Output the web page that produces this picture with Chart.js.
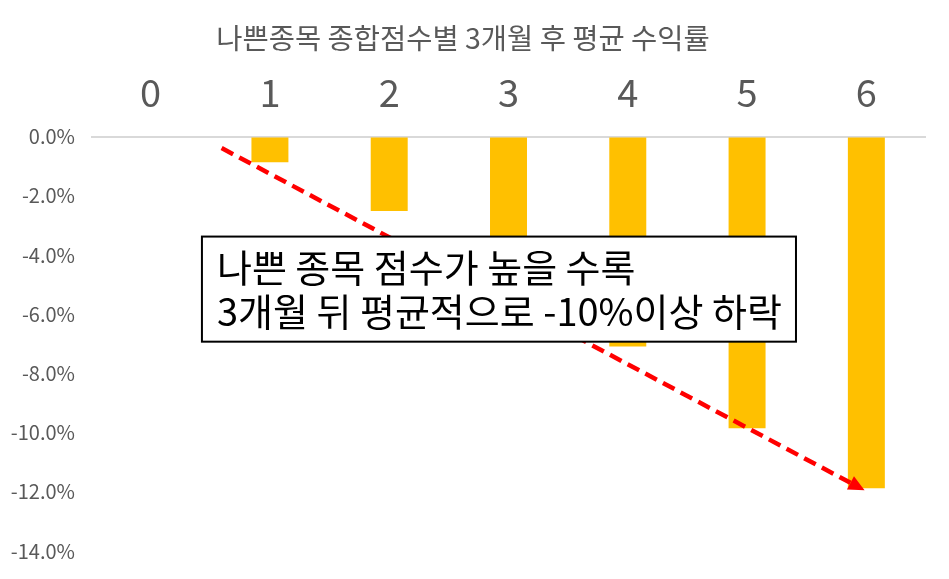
<!DOCTYPE html>
<html>
<head>
<meta charset="utf-8">
<script src="https://cdn.jsdelivr.net/npm/chart.js@4"></script>
<style>
  html, body { margin: 0; padding: 0; background: #ffffff; }
  #wrap { width: 949px; height: 579px; position: relative; }
</style>
</head>
<body>
<div id="wrap"><canvas id="c"></canvas></div>
<script>
// ---- data ----
const categories = ['0', '1', '2', '3', '4', '5', '6'];
const returns = [0, -0.87, -2.52, -4.6, -7.09, -9.85, -11.88];   // average 3-month return (%)
const chartTitle = '나쁜종목 종합점수별 3개월 후 평균 수익률';
const noteLines = ['나쁜 종목 점수가 높을 수록', '3개월 뒤 평균적으로 -10%이상 하락'];

// ---- annotation placement (in axis units: category index, %) ----
const arrowFrom = { x: 0.595, y: -0.39 };
const arrowTo   = { x: 5.985, y: -11.95 };
const noteBox   = { x0: 0.43, x1: 5.41, y0: -3.38, y1: -6.93 };

const FONT = '"Noto Sans CJK KR", "Noto Sans", sans-serif';
const GREY = '#595959';

const annotationPlugin = {
  id: 'notes',
  afterDatasetsDraw(chart) {
    const { ctx, scales: { x, y } } = chart;
    // dashed arrow
    const x1 = x.getPixelForValue(arrowFrom.x), y1 = y.getPixelForValue(arrowFrom.y);
    const x2 = x.getPixelForValue(arrowTo.x),   y2 = y.getPixelForValue(arrowTo.y);
    const ang = Math.atan2(y2 - y1, x2 - x1);
    const headLen = 16, headW = 7.5;
    const bx = x2 - headLen * Math.cos(ang), by = y2 - headLen * Math.sin(ang);
    ctx.save();
    ctx.strokeStyle = '#FF0000';
    ctx.lineWidth = 4.5;
    ctx.setLineDash([13, 7]);
    ctx.beginPath();
    ctx.moveTo(x1, y1);
    ctx.lineTo(bx, by);
    ctx.stroke();
    ctx.setLineDash([]);
    ctx.fillStyle = '#FF0000';
    ctx.beginPath();
    ctx.moveTo(x2, y2);
    ctx.lineTo(bx + headW * Math.sin(ang), by - headW * Math.cos(ang));
    ctx.lineTo(bx - headW * Math.sin(ang), by + headW * Math.cos(ang));
    ctx.closePath();
    ctx.fill();

    // text box
    const l = x.getPixelForValue(noteBox.x0), r = x.getPixelForValue(noteBox.x1);
    const t = y.getPixelForValue(noteBox.y0), b = y.getPixelForValue(noteBox.y1);
    ctx.fillStyle = '#ffffff';
    ctx.fillRect(l, t, r - l, b - t);
    ctx.strokeStyle = '#000000';
    ctx.lineWidth = 2;
    ctx.strokeRect(l, t, r - l, b - t);
    ctx.fillStyle = '#000000';
    ctx.font = '38px ' + FONT;
    ctx.textAlign = 'left';
    ctx.textBaseline = 'middle';
    const mid = (t + b) / 2;
    ctx.fillText(noteLines[0], l + 15, mid - 22);
    ctx.fillText(noteLines[1], l + 15, mid + 22);
    ctx.restore();
  }
};

new Chart(document.getElementById('c'), {
  type: 'bar',
  data: {
    labels: categories,
    datasets: [{
      data: returns,
      backgroundColor: '#FFC000',
      borderWidth: 0,
      barPercentage: 1,
      categoryPercentage: 0.31
    }]
  },
  options: {
    responsive: true,
    maintainAspectRatio: false,
    animation: false,
    devicePixelRatio: 1,
    layout: { padding: { left: 0, right: 23, top: 0, bottom: 25 } },
    plugins: {
      legend: { display: false },
      tooltip: { enabled: false },
      title: {
        display: true,
        text: chartTitle,
        color: GREY,
        font: { family: FONT, size: 28.5, weight: 'normal' },
        padding: { top: 20.9, bottom: 0 }
      }
    },
    scales: {
      x: {
        position: 'top',
        grid: { display: false, drawTicks: false },
        border: { display: false },
        ticks: {
          color: GREY,
          font: { family: FONT, size: 38 },
          padding: 21
        },
        afterFit(scale) { scale.height = 81.4; }
      },
      y: {
        min: -14,
        max: 0,
        grid: {
          drawTicks: false,
          color: (c) => (c.tick && c.tick.value === 0 ? '#D9D9D9' : 'rgba(0,0,0,0)'),
          lineWidth: 2
        },
        border: { display: false },
        ticks: {
          stepSize: 2,
          color: GREY,
          font: { family: FONT, size: 20 },
          padding: 16,
          callback: (v) => v.toFixed(1) + '%'
        },
        afterFit(scale) { scale.width = 91; }
      }
    }
  },
  plugins: [annotationPlugin]
});
</script>
</body>
</html>
